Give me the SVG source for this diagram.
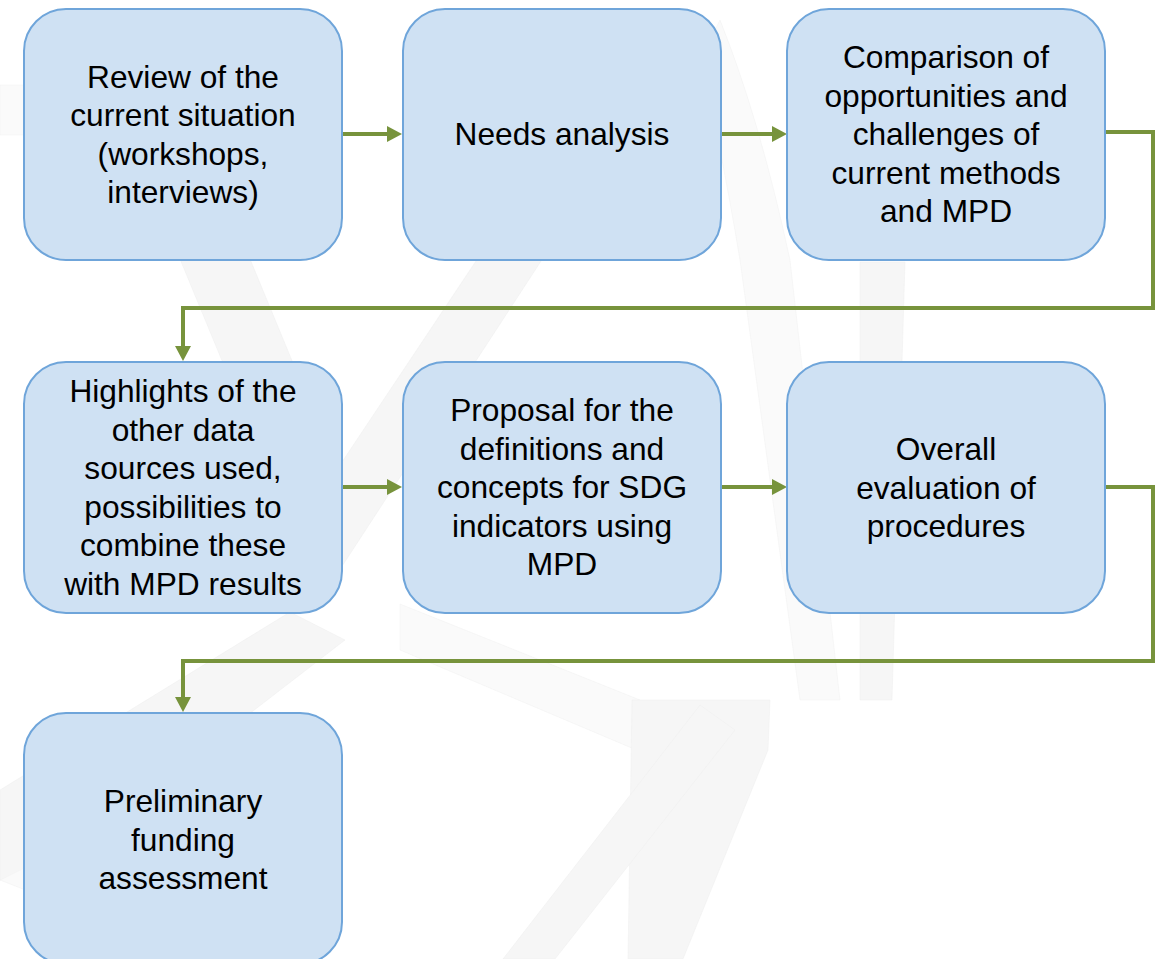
<svg xmlns="http://www.w3.org/2000/svg" width="1160" height="959" viewBox="0 0 1160 959">
  <style>
    .box { fill: #cfe1f3; stroke: #6fa5da; stroke-width: 2; }
    .lbl { font-family: "Liberation Sans", Arial, sans-serif; font-size: 31.7px; fill: #000; text-anchor: middle; }
    .conn { fill: none; stroke: #77933c; stroke-width: 4; }
    .bg { fill: #f6f6f6; stroke: #eeeeee; stroke-width: 0.5; }
    .bg2 { fill: #fafafa; stroke: #f0f0f0; stroke-width: 0.5; }
  </style>
  <defs>
    <marker id="arrow" markerUnits="userSpaceOnUse" markerWidth="16" markerHeight="16" refX="0" refY="8" orient="auto">
      <path d="M0,0 L15,8 L0,16 Z" fill="#77933c"/>
    </marker>
  </defs>
  <rect width="1160" height="959" fill="#ffffff"/>
  <g id="background">
    <path class="bg2" d="M0,85 L24,85 L24,135 L0,135 Z"/>
    <path class="bg" d="M480,255 L545,255 L320,600 L250,600 Z"/>
    <path class="bg" d="M180,259 L250,259 L300,380 L230,380 Z"/>
    <path class="bg" d="M290,612 L345,640 L60,860 L0,880 L0,790 Z"/>
    <path class="bg2" d="M720,20 Q760,120 790,260 L840,700 L800,700 L740,260 Q720,140 700,60 Z"/>
    <path class="bg" d="M860,262 L905,262 L892,700 L860,700 Z"/>
    <path class="bg2" d="M400,604 L640,700 L660,760 L400,650 Z"/>
    <path class="bg" d="M632,700 L770,700 L768,750 L683,959 L628,959 Z"/>
    <path class="bg" d="M700,705 L735,730 L555,959 L503,959 Z"/>
    <path class="bg2" d="M0,880 L120,820 L300,959 L200,959 Z"/>
  </g>
  <g id="connectors">
    <path class="conn" d="M342,134 H387" marker-end="url(#arrow)"/>
    <path class="conn" d="M721,134 H772" marker-end="url(#arrow)"/>
    <path class="conn" d="M1105,132 H1153 V308 H183 V346" marker-end="url(#arrow)"/>
    <path class="conn" d="M342,487 H387" marker-end="url(#arrow)"/>
    <path class="conn" d="M721,487 H772" marker-end="url(#arrow)"/>
    <path class="conn" d="M1105,487 H1153 V661 H183 V697" marker-end="url(#arrow)"/>
  </g>
  <g id="node1">
    <rect class="box" x="24" y="9" width="318" height="251" rx="42"/>
    <text class="lbl"><tspan x="183" y="87.5">Review of the</tspan><tspan x="183" y="126">current situation</tspan><tspan x="183" y="164.5">(workshops,</tspan><tspan x="183" y="203">interviews)</tspan></text>
  </g>
  <g id="node2">
    <rect class="box" x="403" y="9" width="318" height="251" rx="42"/>
    <text class="lbl" x="562" y="145">Needs analysis</text>
  </g>
  <g id="node3">
    <rect class="box" x="787" y="9" width="318" height="251" rx="42"/>
    <text class="lbl"><tspan x="946" y="68">Comparison of</tspan><tspan x="946" y="106.5">opportunities and</tspan><tspan x="946" y="145">challenges of</tspan><tspan x="946" y="183.5">current methods</tspan><tspan x="946" y="222">and MPD</tspan></text>
  </g>
  <g id="node4">
    <rect class="box" x="24" y="362" width="318" height="251" rx="42"/>
    <text class="lbl"><tspan x="183" y="402">Highlights of the</tspan><tspan x="183" y="440.5">other data</tspan><tspan x="183" y="479">sources used,</tspan><tspan x="183" y="517.5">possibilities to</tspan><tspan x="183" y="556">combine these</tspan><tspan x="183" y="594.5">with MPD results</tspan></text>
  </g>
  <g id="node5">
    <rect class="box" x="403" y="362" width="318" height="251" rx="42"/>
    <text class="lbl"><tspan x="562" y="421">Proposal for the</tspan><tspan x="562" y="459.5">definitions and</tspan><tspan x="562" y="498">concepts for SDG</tspan><tspan x="562" y="536.5">indicators using</tspan><tspan x="562" y="575">MPD</tspan></text>
  </g>
  <g id="node6">
    <rect class="box" x="787" y="362" width="318" height="251" rx="42"/>
    <text class="lbl"><tspan x="946" y="460">Overall</tspan><tspan x="946" y="498.5">evaluation of</tspan><tspan x="946" y="537">procedures</tspan></text>
  </g>
  <g id="node7">
    <rect class="box" x="24" y="713" width="318" height="251" rx="42"/>
    <text class="lbl"><tspan x="183" y="812">Preliminary</tspan><tspan x="183" y="850.5">funding</tspan><tspan x="183" y="889">assessment</tspan></text>
  </g>
</svg>
